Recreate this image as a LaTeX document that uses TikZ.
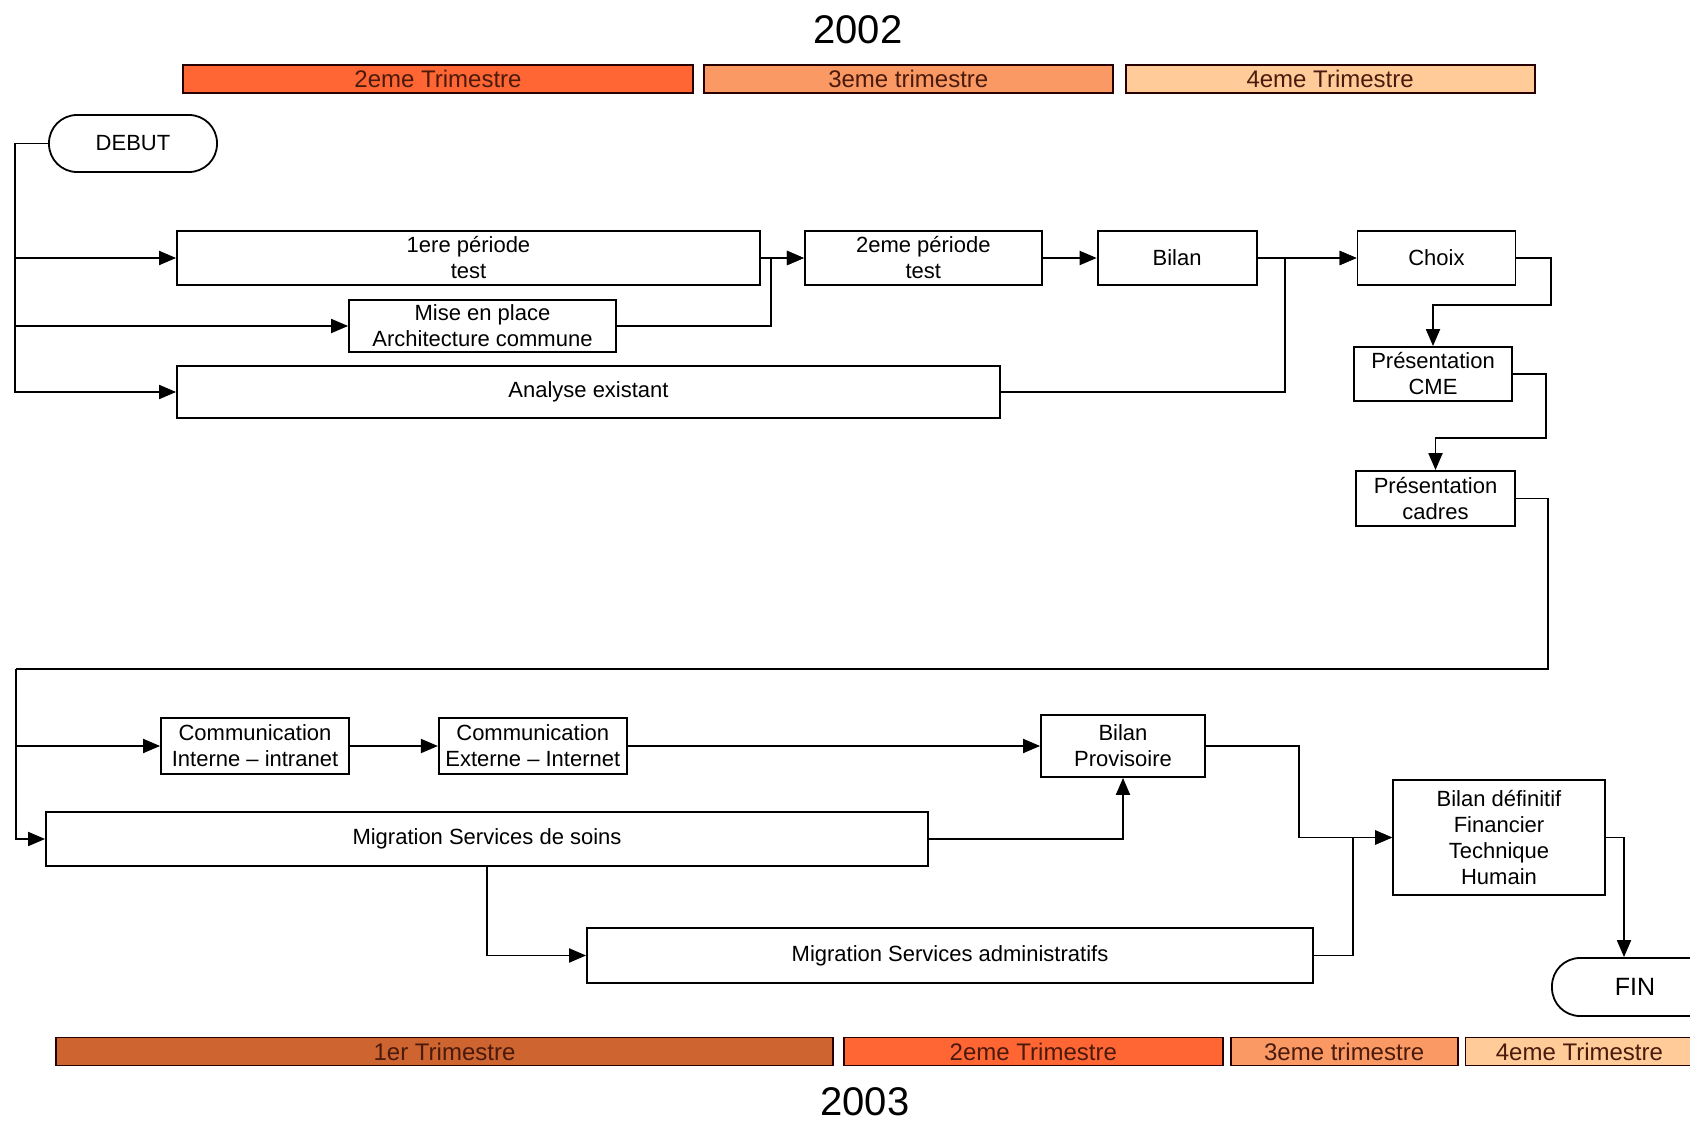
\documentclass[tikz,border=0pt]{standalone}
\usepackage{fontspec}
\setmainfont{Liberation Sans}
\usepackage{xcolor}
\usetikzlibrary{arrows.meta,positioning}

\definecolor{trimRouge}{HTML}{FF6633}
\definecolor{trimSaumon}{HTML}{FA9964}
\definecolor{trimPeche}{HTML}{FFCC99}
\definecolor{trimBrun}{HTML}{CE6430}
\definecolor{trimTexte}{HTML}{4A1A0C}

\begin{document}
\begin{tikzpicture}[x=1pt,y=-1pt,
  boite/.style={draw,line width=1.8pt,align=center,inner sep=0pt,
                font=\fontsize{22}{26}\selectfont},
  termin/.style={boite,rounded corners=28pt,minimum height=57pt},
  barre/.style={draw=black!85!red,line width=1.8pt,inner sep=0pt,minimum height=28pt,
                text=trimTexte,font=\fontsize{24}{28}\selectfont},
  annee/.style={font=\fontsize{40}{44}\selectfont},
  fl/.style={-{Triangle[length=17pt,width=14pt]},line width=1.9pt}]

  \path[fill=white,use as bounding box] (0,0) rectangle (1690,1124);

  % 2002
  \node[annee] (an1) at (858,30) {2002};
  \node[barre,fill=trimRouge,minimum width=510pt] (t2a) at (438,79) {2eme Trimestre};
  \node[barre,fill=trimSaumon,minimum width=409pt,right=9pt of t2a] (t3a) {3eme trimestre};
  \node[barre,fill=trimPeche,minimum width=409pt,right=11pt of t3a] (t4a) {4eme Trimestre};

  \node[termin,minimum width=168pt] (debut) at (133,143.5) {DEBUT};
  \node[boite,minimum width=583pt,minimum height=54pt] (per1) at (468.5,258) {1ere période\\test};
  \node[boite,minimum width=237pt,minimum height=54pt,right=43pt of per1] (per2) {2eme période\\test};
  \node[boite,minimum width=159pt,minimum height=54pt,right=54pt of per2] (bilan) {Bilan};
  \node[boite,minimum width=158pt,minimum height=54pt,right=99pt of bilan] (choix) {Choix};
  \node[boite,minimum width=267pt,minimum height=52pt] (mise) at (482.5,326) {Mise en place\\Architecture commune};
  \node[boite,minimum width=823pt,minimum height=52pt] (analyse) at (588.5,392) {Analyse existant};
  \node[boite,minimum width=158pt,minimum height=54pt] (cme) at (1433,374) {Présentation\\CME};
  \node[boite,minimum width=159pt,minimum height=55pt] (cadres) at (1435.5,498.5) {Présentation\\cadres};

  \draw[fl] (debut.west) -- ++(-33,0) |- (per1.west);
  \draw[fl] (debut.west) -- ++(-33,0) |- (mise.west);
  \draw[fl] (debut.west) -- ++(-33,0) |- (analyse.west);
  \draw[fl] (per1) -- (per2);
  \draw[fl] (mise.east) -- ++(154,0) |- (per2.west);
  \draw[fl] (per2) -- (bilan);
  \draw[fl] (bilan) -- (choix);
  \draw[fl] (analyse.east) -- ++(284,0) |- (choix.west);
  \draw[fl] (choix.east) -- ++(35,0) -- ++(0,47) -| (cme.north);
  \draw[fl] (cme.east) -- ++(33,0) -- ++(0,64) -| (cadres.north);

  % 2003
  \node[boite,minimum width=188pt,minimum height=56pt] (comint) at (255,746) {Communication\\Interne -- intranet};
  \node[boite,minimum width=188pt,minimum height=56pt,right=88pt of comint] (comext) {Communication\\Externe -- Internet};
  \node[boite,minimum width=164pt,minimum height=62pt] (bprov) at (1123,746) {Bilan\\Provisoire};
  \node[boite,minimum width=882pt,minimum height=54pt] (soins) at (487,839) {Migration Services de soins};
  \node[boite,minimum width=726pt,minimum height=55pt] (admin) at (950,955.5) {Migration Services administratifs};
  \node[boite,minimum width=212pt,minimum height=115pt] (bdef) at (1499,837.5) {Bilan définitif\\Financier\\Technique\\Humain};
  \node[termin,minimum width=166pt,minimum height=58pt,font=\fontsize{25}{28}\selectfont] (fin) at (1635,987) {FIN};

  \coordinate (retour) at (16,669);
  \draw[line width=1.9pt] (cadres.east) -- ++(32,0) |- (retour);
  \draw[fl] (retour) |- (soins.west);
  \draw[fl] (retour) |- (comint.west);
  \draw[fl] (comint) -- (comext);
  \draw[fl] (comext) -- (bprov);
  \draw[fl] (soins.east) -| (bprov.south);
  \draw[fl] (soins.south) |- (admin.west);
  \draw[fl] (bprov.east) -- ++(93,0) |- (bdef.west);
  \draw[fl] (admin.east) -- ++(39,0) |- (bdef.west);
  \draw[fl] (bdef.east) -| ([xshift=-11pt]fin.north);

  \node[barre,fill=trimBrun,minimum width=777pt] (t1b) at (444.5,1051.5) {1er Trimestre};
  \node[barre,fill=trimRouge,minimum width=379pt,right=9pt of t1b] (t2b) {2eme Trimestre};
  \node[barre,fill=trimSaumon,minimum width=227pt,right=6pt of t2b] (t3b) {3eme trimestre};
  \node[barre,fill=trimPeche,minimum width=228pt,right=6pt of t3b] (t4b) {4eme Trimestre};
  \node[annee] (an2) at (865,1102) {2003};
\end{tikzpicture}
\end{document}
